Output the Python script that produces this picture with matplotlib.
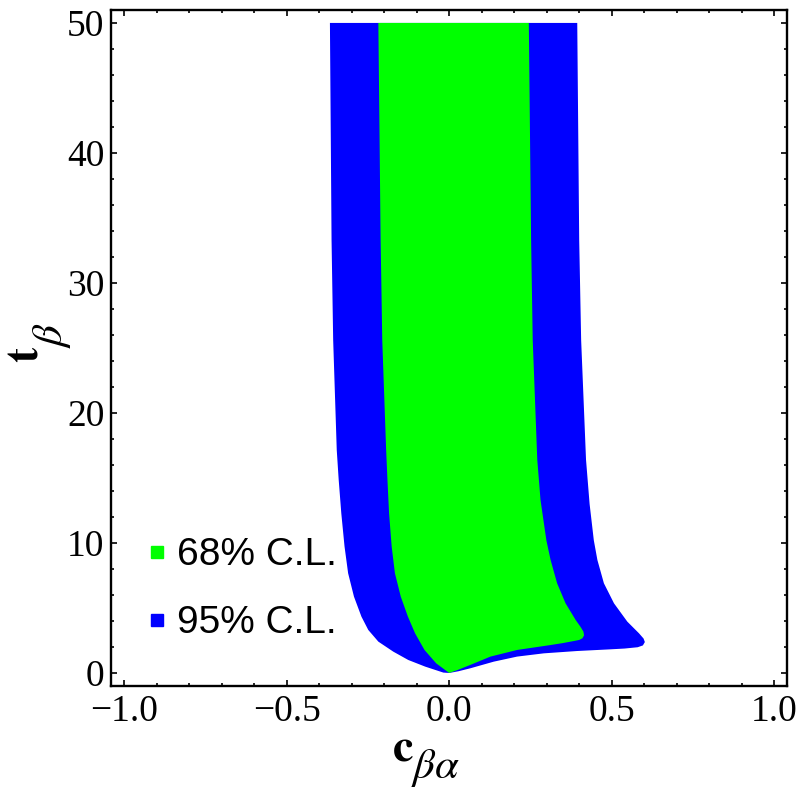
import numpy as np
import matplotlib
matplotlib.use('Agg')
import matplotlib.pyplot as plt
from matplotlib.ticker import MultipleLocator

plt.rcParams['font.family'] = ['Liberation Serif', 'DejaVu Serif']
plt.rcParams['mathtext.fontset'] = 'stix'

# region boundaries (c_beta_alpha, t_beta)
# 95% C.L. : left edge bottom -> top
azul_izq_c = [0, -0.018, -0.074, -0.126, -0.172, -0.218, -0.249, -0.270, -0.293,
              -0.311, -0.322, -0.332, -0.340, -0.346, -0.357, -0.362, -0.367]
azul_izq_t = [0, 0.03, 0.49, 1.0, 1.64, 2.41, 3.31, 4.33, 5.87,
              7.67, 9.72, 12.28, 14.85, 17.15, 25.6, 33.3, 50]
# 95% C.L. : right edge top -> tip -> lower edge back to origin
azul_der_c = [0.394, 0.400, 0.406, 0.421, 0.432, 0.445, 0.456, 0.476, 0.507, 0.548,
              0.584, 0.598, 0.602, 0.596, 0.580, 0.540, 0.497, 0.394, 0.291, 0.209,
              0.137, 0.065, 0.028, 0]
azul_der_t = [50, 33.3, 25.6, 16.4, 13.0, 10.2, 8.69, 6.9, 5.36, 3.95,
              3.05, 2.65, 2.38, 2.12, 1.98, 1.88, 1.82, 1.69, 1.51, 1.26,
              0.87, 0.36, 0.13, 0]

# 68% C.L.
verde_izq_c = [0, -0.040, -0.076, -0.105, -0.127, -0.149, -0.167, -0.177, -0.185,
               -0.190, -0.194, -0.206, -0.211, -0.218]
verde_izq_t = [0, 0.74, 1.77, 3.05, 4.33, 5.87, 7.67, 9.72, 12.28,
               14.85, 17.15, 25.6, 33.3, 50]
verde_der_c = [0.245, 0.252, 0.257, 0.271, 0.281, 0.299, 0.312, 0.332, 0.358, 0.389,
               0.404, 0.413, 0.415, 0.410, 0.400, 0.384, 0.350, 0.312, 0.209, 0.127,
               0.065, 0.028, 0]
verde_der_t = [50, 33.3, 25.6, 16.4, 13.3, 10.2, 8.69, 6.9, 5.36, 4.08,
               3.55, 3.18, 2.90, 2.67, 2.54, 2.46, 2.30, 2.15, 1.77, 1.26,
               0.62, 0.25, 0]

x_ticks = [-1.0, -0.5, 0.0, 0.5, 1.0]
x_tick_labels = ['\u22121.0', '\u22120.5', '0.0', '0.5', '1.0']
y_ticks = [0, 10, 20, 30, 40, 50]
etiquetas = ['68% C.L.', '95% C.L.']
colores = ['#00ff00', '#0000ff']

fig = plt.figure(figsize=(8, 8.01), dpi=100)
ax = fig.add_axes([0.139, 0.1436, 0.845, 0.844])

ax.fill(azul_izq_c + azul_der_c, azul_izq_t + azul_der_t, color=colores[1], lw=0)
ax.fill(verde_izq_c + verde_der_c, verde_izq_t + verde_der_t, color=colores[0], lw=0)

ax.set_xticks(x_ticks)
ax.set_xticklabels(x_tick_labels)
ax.set_yticks(y_ticks)
ax.xaxis.set_minor_locator(MultipleLocator(0.1))
ax.yaxis.set_minor_locator(MultipleLocator(2))
ax.set_xlim(-1.04, 1.04)
ax.set_ylim(-1, 51)

ax.tick_params(which='both', direction='in', top=True, right=True, width=1.2,
               labelsize=27)
ax.tick_params(which='major', length=4)
ax.tick_params(which='minor', length=2.3)
ax.tick_params(axis='x', pad=6)
ax.tick_params(axis='y', pad=5)
for s in ax.spines.values():
    s.set_linewidth(1.7)

# axis labels: main letter and its (large) subscript
ax.text(0.4157, -0.1095, r'$\mathbf{c}$', transform=ax.transAxes, fontsize=33,
        ha='left', va='baseline')
ax.text(0.443, -0.136, r'$\beta\alpha$', transform=ax.transAxes, fontsize=31,
        ha='left', va='baseline')
ax.text(-0.1095, 0.478, r'$\mathbf{t}$', transform=ax.transAxes, fontsize=33,
        ha='left', va='baseline', rotation=90, rotation_mode='anchor')
ax.text(-0.0725, 0.5, r'$\beta$', transform=ax.transAxes, fontsize=31,
        ha='left', va='baseline', rotation=90, rotation_mode='anchor')

# leyenda
for i in range(2):
    ax.plot([0.068], [0.198 - 0.1 * i], 's', ms=8.6, color=colores[i],
            transform=ax.transAxes, clip_on=False)
    ax.text(0.097, 0.179 - 0.1 * i, etiquetas[i], transform=ax.transAxes,
            fontsize=28, family=['Liberation Sans', 'DejaVu Sans'], va='baseline')

fig.savefig('out.png', dpi=100)
